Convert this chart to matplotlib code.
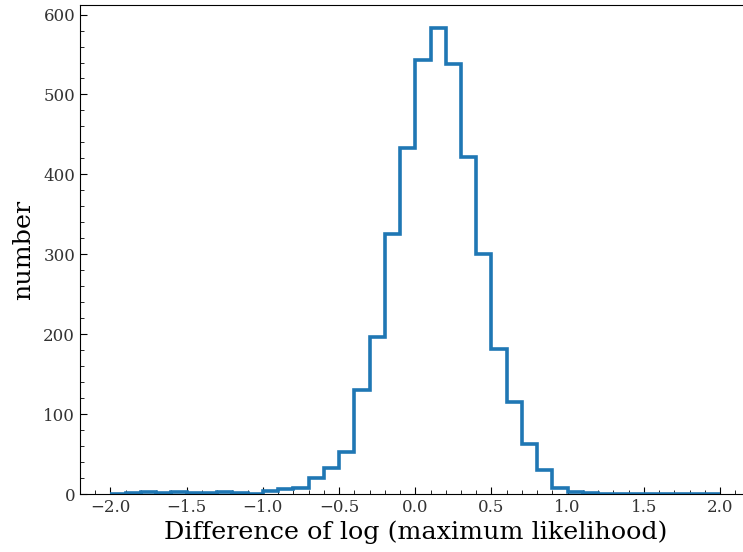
import numpy as np
import matplotlib
matplotlib.use('Agg')
import matplotlib.pyplot as plt
from matplotlib.ticker import MultipleLocator

# bin edges -2.0 .. 2.0, step 0.1
bordes = np.round(np.arange(-2.0, 2.0001, 0.1), 1)
# cuentas
cuentas = [0, 1, 2, 1, 2, 1, 1, 2, 1, 0,
           4, 6, 8, 20, 32, 52, 130, 197, 325, 433,
           543, 583, 538, 422, 300, 182, 115, 62, 30, 7,
           3, 1, 0, 0, 0, 0, 0, 0, 0, 0]

centros = (bordes[:-1] + bordes[1:]) / 2

plt.rcParams['font.family'] = 'DejaVu Serif'

fig = plt.figure(figsize=(7.43, 5.52), dpi=100)
ax = fig.add_axes([0.1077, 0.105, 0.9024, 0.886])
ax.hist(centros, bins=bordes, weights=cuentas, histtype='step',
        linewidth=2.6, color='#1f77b4')
ax.set_xlim(-2.2, 2.2)
ax.set_ylim(0, 612)
ax.xaxis.set_major_locator(MultipleLocator(0.5))
ax.xaxis.set_minor_locator(MultipleLocator(0.1))
ax.yaxis.set_major_locator(MultipleLocator(100))
ax.yaxis.set_minor_locator(MultipleLocator(20))
ax.tick_params(which='both', direction='in', labelsize=12, labelcolor='#333333')
ax.tick_params(which='major', length=5)
ax.tick_params(which='minor', length=3)
ax.set_xlabel('Difference of log (maximum likelihood)', fontsize=18.3, labelpad=3)
ax.set_ylabel('number', fontsize=18.3, labelpad=6)

plt.savefig('out.png', dpi=100)
